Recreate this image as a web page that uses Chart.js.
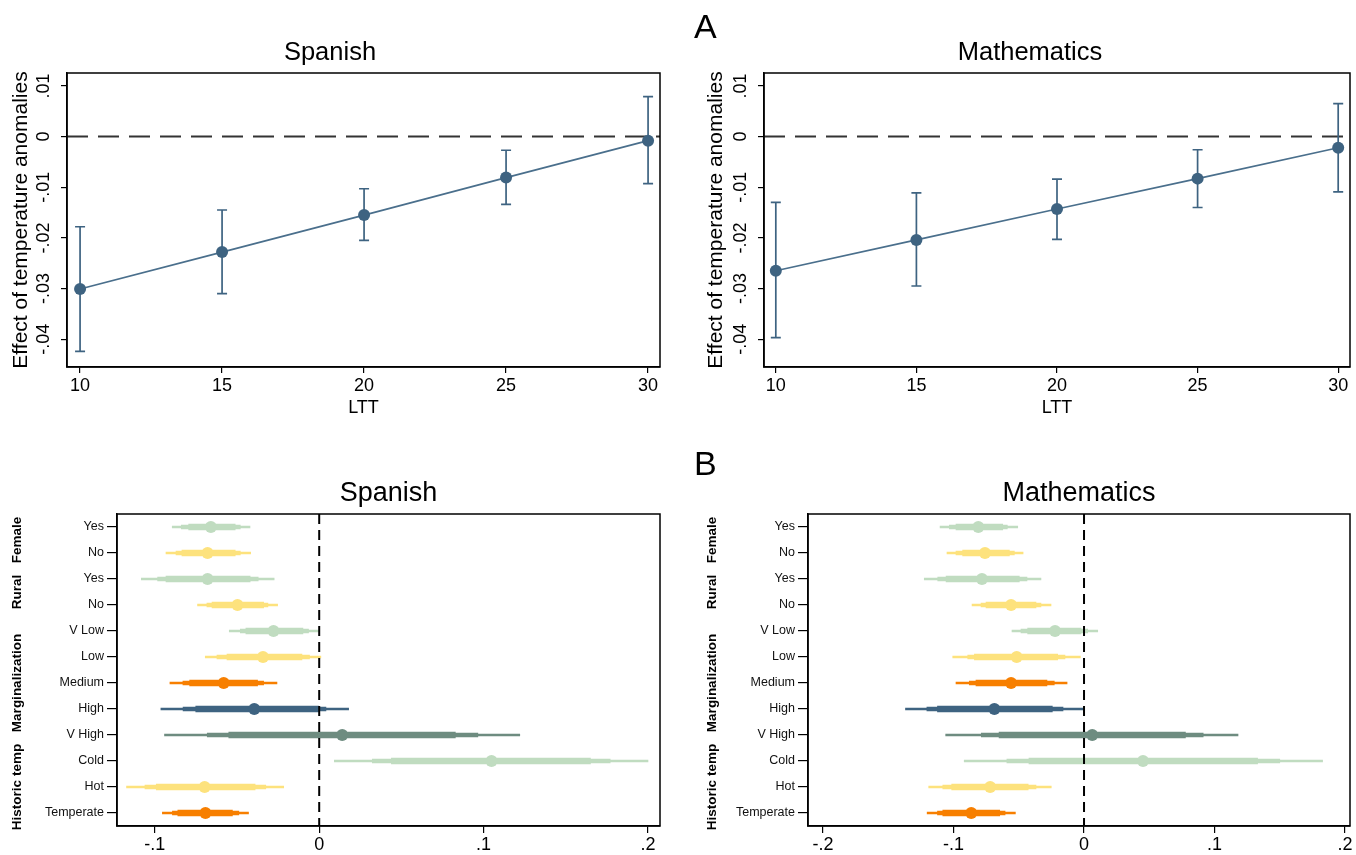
<!DOCTYPE html>
<html>
<head>
<meta charset="utf-8">
<script src="https://cdn.jsdelivr.net/npm/chart.js@4.4.1/dist/chart.umd.min.js"></script>
<style>
  body { margin: 0; background: #fff; }
  #page { position: relative; width: 1356px; height: 855px; overflow: hidden; font-family: 'Liberation Sans', Arial, sans-serif; }
  canvas { position: absolute; }
  .tag { position: absolute; font-size: 34px; line-height: 34px; color: #000; }
</style>
</head>
<body>
<div id="page">
  <canvas id="spanish-ltt" width="678" height="425" style="left:0; top:0;"></canvas>
  <canvas id="math-ltt" width="666" height="425" style="left:690px; top:0;"></canvas>
  <canvas id="spanish-coef" width="678" height="425" style="left:0; top:430px;"></canvas>
  <canvas id="math-coef" width="666" height="425" style="left:690px; top:430px;"></canvas>
  <div class="tag" style="left:694px; top:9px;">A</div>
  <div class="tag" style="left:694px; top:446px;">B</div>
</div>
<script>
// panel A: effect by LTT
const ltt = [10, 15, 20, 25, 30];
const lttTicks = [10, 15, 20, 25, 30];
const effectTicks = [-0.04, -0.03, -0.02, -0.01, 0, 0.01];

const spanishEffect = [-0.0301, -0.0228, -0.0155, -0.0081, -0.0008];
const spanishLo = [-0.0424, -0.0310, -0.0205, -0.0134, -0.0093];
const spanishHi = [-0.0178, -0.0145, -0.0103, -0.0027, 0.0079];

const mathEffect = [-0.0265, -0.0204, -0.0143, -0.0083, -0.0022];
const mathLo = [-0.0397, -0.0295, -0.0203, -0.0140, -0.0109];
const mathHi = [-0.0130, -0.0111, -0.0084, -0.0026, 0.0065];

// panel B: heterogeneity
const rowLabels = ['Yes', 'No', 'Yes', 'No', 'V Low', 'Low', 'Medium', 'High', 'V High', 'Cold', 'Hot', 'Temperate'];
const groupNames = ['Female', 'Rural', 'Marginalization', 'Historic temp'];
const groupSizes = [2, 2, 5, 3];

const spanishCoef = [-0.0659, -0.0679, -0.0679, -0.0497, -0.0278, -0.0342, -0.0581, -0.0395, 0.0140, 0.1048, -0.0697, -0.0692];
const spanishLo99 = [-0.0894, -0.0932, -0.1082, -0.0740, -0.0547, -0.0693, -0.0908, -0.0963, -0.0941, 0.0092, -0.1172, -0.0954];
const spanishHi99 = [-0.0421, -0.0417, -0.0274, -0.0253, 0.0000, 0.0010, -0.0257, 0.0179, 0.1220, 0.2000, -0.0216, -0.0430];
const spanishLo95 = [-0.0839, -0.0871, -0.0983, -0.0683, -0.0480, -0.0622, -0.0829, -0.0828, -0.0681, 0.0323, -0.1060, -0.0893];
const spanishHi95 = [-0.0480, -0.0480, -0.0371, -0.0312, -0.0065, -0.0059, -0.0338, 0.0041, 0.0965, 0.1770, -0.0325, -0.0489];
const spanishLo90 = [-0.0794, -0.0835, -0.0932, -0.0652, -0.0446, -0.0561, -0.0788, -0.0751, -0.0550, 0.0439, -0.0991, -0.0860];
const spanishHi90 = [-0.0511, -0.0511, -0.0420, -0.0338, -0.0099, -0.0105, -0.0375, -0.0004, 0.0828, 0.1650, -0.0390, -0.0528];

const mathCoef = [-0.0810, -0.0759, -0.0782, -0.0559, -0.0222, -0.0516, -0.0559, -0.0687, 0.0063, 0.0452, -0.0719, -0.0864];
const mathLo99 = [-0.1103, -0.1050, -0.1224, -0.0858, -0.0552, -0.1006, -0.0981, -0.1368, -0.1060, -0.0918, -0.1190, -0.1202];
const mathHi99 = [-0.0508, -0.0467, -0.0330, -0.0253, 0.0105, -0.0028, -0.0130, 0.0000, 0.1180, 0.1828, -0.0251, -0.0526];
const mathLo95 = [-0.1032, -0.0981, -0.1121, -0.0789, -0.0483, -0.0891, -0.0879, -0.1204, -0.0787, -0.0591, -0.1082, -0.1123];
const mathHi95 = [-0.0588, -0.0534, -0.0437, -0.0330, 0.0028, -0.0146, -0.0228, -0.0161, 0.0913, 0.1500, -0.0368, -0.0605];
const mathLo90 = [-0.0981, -0.0930, -0.1057, -0.0751, -0.0432, -0.0840, -0.0828, -0.1123, -0.0651, -0.0422, -0.1014, -0.1082];
const mathHi90 = [-0.0623, -0.0572, -0.0496, -0.0368, -0.0023, -0.0202, -0.0284, -0.0243, 0.0777, 0.1330, -0.0428, -0.0646];

const spanishCoefTicks = [-0.1, 0, 0.1, 0.2];
const mathCoefTicks = [-0.2, -0.1, 0, 0.1, 0.2];

const FONT = "'Liberation Sans', Arial, sans-serif";
const green = '#c0dcc0', yellow = '#fde27d', orange = '#f77f00', navy = '#3e6381', slate = '#6e8c80';
const rowColors = [green, yellow, green, yellow, green, yellow, orange, navy, slate, green, yellow, orange];

// stata style: .01, -.02, 0
function stataNum(v) {
  if (v === 0) return '0';
  return String(+v.toFixed(3)).replace('0.', '.');
}

const framePlugin = {
  id: 'frame',
  afterDraw(chart) {
    const { ctx, chartArea: a } = chart;
    ctx.save();
    ctx.strokeStyle = '#000';
    ctx.lineWidth = 1.5;
    ctx.strokeRect(a.left, a.top, a.right - a.left, a.bottom - a.top);
    ctx.restore();
  }
};

function refLine(axis, value, style, onTop) {
  const draw = chart => {
    const { ctx, chartArea: a, scales } = chart;
    ctx.save();
    ctx.beginPath();
    ctx.setLineDash(style.dash);
    ctx.strokeStyle = style.color;
    ctx.lineWidth = style.width;
    if (axis === 'y') {
      const y = scales.y.getPixelForValue(value);
      ctx.moveTo(a.left, y);
      ctx.lineTo(a.right, y);
    } else {
      const x = scales.x.getPixelForValue(value);
      ctx.moveTo(x, a.top);
      ctx.lineTo(x, a.bottom);
    }
    ctx.stroke();
    ctx.restore();
  };
  return {
    id: 'refLine',
    beforeDatasetsDraw(chart) { if (!onTop) draw(chart); },
    afterDatasetsDraw(chart) { if (onTop) draw(chart); }
  };
}

function errorBars(xs, lo, hi) {
  return {
    id: 'errorBars',
    beforeDatasetsDraw(chart) {
      const { ctx, scales: { x, y } } = chart;
      const cap = 5;
      ctx.save();
      ctx.strokeStyle = navy;
      ctx.lineWidth = 1.7;
      xs.forEach((v, i) => {
        const px = x.getPixelForValue(v);
        const top = y.getPixelForValue(hi[i]);
        const bot = y.getPixelForValue(lo[i]);
        ctx.beginPath();
        ctx.moveTo(px, top); ctx.lineTo(px, bot);
        ctx.moveTo(px - cap, top); ctx.lineTo(px + cap, top);
        ctx.moveTo(px - cap, bot); ctx.lineTo(px + cap, bot);
        ctx.stroke();
      });
      ctx.restore();
    }
  };
}

function groupLabels(xPos) {
  return {
    id: 'groupLabels',
    afterDraw(chart) {
      const { ctx, scales: { y } } = chart;
      ctx.save();
      ctx.font = 'bold 13.5px ' + FONT;
      ctx.fillStyle = '#000';
      ctx.textAlign = 'center';
      ctx.textBaseline = 'middle';
      let start = 0;
      groupNames.forEach((name, g) => {
        const end = start + groupSizes[g] - 1;
        const cy = (y.getPixelForValue(start) + y.getPixelForValue(end)) / 2;
        ctx.save();
        ctx.translate(xPos, cy);
        ctx.rotate(-Math.PI / 2);
        ctx.fillText(name, 0, 0);
        ctx.restore();
        start = end + 1;
      });
      ctx.restore();
    }
  };
}

function lttChart(id, title, effect, lo, hi, geo) {
  new Chart(document.getElementById(id), {
    type: 'line',
    data: {
      datasets: [{
        data: ltt.map((v, i) => ({ x: v, y: effect[i] })),
        borderColor: '#4a6f8c',
        borderWidth: 1.7,
        pointRadius: 6,
        pointBackgroundColor: navy,
        pointBorderWidth: 0
      }]
    },
    options: {
      responsive: false,
      animation: false,
      layout: { padding: { left: geo.padLeft, right: geo.padRight } },
      plugins: {
        legend: { display: false },
        tooltip: { enabled: false },
        title: {
          display: true, text: title, color: '#000',
          font: { size: 25.5, family: FONT, weight: 'normal', lineHeight: 1.2 },
          padding: { top: 37.7, bottom: 4.7 }
        }
      },
      scales: {
        x: {
          type: 'linear', min: geo.xMin, max: geo.xMax,
          afterBuildTicks: s => { s.ticks = lttTicks.map(v => ({ value: v })); },
          afterFit: s => { s.height = 58; },
          grid: { drawOnChartArea: false, tickLength: 6, color: '#000', lineWidth: 1.2 },
          border: { color: '#000', width: 1.5 },
          ticks: { color: '#000', font: { size: 18, family: FONT }, padding: 2, maxRotation: 0 },
          title: { display: true, text: 'LTT', color: '#000', font: { size: 18, family: FONT }, padding: { top: 0, bottom: 6 } }
        },
        y: {
          min: -0.0455, max: 0.01256,
          afterBuildTicks: s => { s.ticks = effectTicks.map(v => ({ value: v })); },
          afterFit: s => { s.width = geo.yWidth; },
          grid: { drawOnChartArea: false, tickLength: 6, color: '#000', lineWidth: 1.2 },
          border: { color: '#000', width: 1.5 },
          ticks: {
            color: '#000', font: { size: 18, family: FONT }, padding: 1,
            minRotation: 90, maxRotation: 90, crossAlign: 'center',
            callback: v => stataNum(v)
          },
          title: {
            display: true, text: 'Effect of temperature anomalies', color: '#000',
            font: { size: 21, family: FONT, lineHeight: 1 }, padding: { top: geo.titlePad, bottom: 0 }
          }
        }
      }
    },
    plugins: [framePlugin, refLine('y', 0, { dash: [21, 10], color: '#333', width: 2 }, false), errorBars(ltt, lo, hi)]
  });
}

function coefChart(id, title, coef, lo99, hi99, lo95, hi95, lo90, hi90, xTicks, geo) {
  const band = (lo, hi) => lo.map((v, i) => [v, hi[i]]);
  new Chart(document.getElementById(id), {
    type: 'bar',
    data: {
      labels: rowLabels,
      datasets: [
        { type: 'line', data: coef, showLine: false, pointRadius: 6, pointBackgroundColor: rowColors, pointBorderWidth: 0 },
        { data: band(lo90, hi90), backgroundColor: rowColors, barThickness: 6, grouped: false },
        { data: band(lo95, hi95), backgroundColor: rowColors, barThickness: 4, grouped: false },
        { data: band(lo99, hi99), backgroundColor: rowColors, barThickness: 2, grouped: false }
      ]
    },
    options: {
      indexAxis: 'y',
      responsive: false,
      animation: false,
      layout: { padding: { right: geo.padRight } },
      plugins: {
        legend: { display: false },
        tooltip: { enabled: false },
        title: {
          display: true, text: title, color: '#000', fullSize: false,
          font: { size: 27, family: FONT, weight: 'normal' },
          padding: { top: 47.8, bottom: 3.8 }
        }
      },
      scales: {
        x: {
          type: 'linear', min: geo.xMin, max: geo.xMax,
          afterBuildTicks: s => { s.ticks = xTicks.map(v => ({ value: v })); },
          afterFit: s => { s.height = 29; },
          grid: { drawOnChartArea: false, tickLength: 7, color: '#000', lineWidth: 1.2 },
          border: { color: '#000', width: 1.5 },
          ticks: { color: '#000', font: { size: 18, family: FONT }, padding: 1, maxRotation: 0, callback: v => stataNum(v) }
        },
        y: {
          type: 'category', offset: true,
          afterFit: s => { s.width = geo.yWidth; },
          grid: { drawOnChartArea: false, tickLength: 10, color: '#000', lineWidth: 1.2, offset: false },
          border: { color: '#000', width: 1.5 },
          ticks: { color: '#111', font: { size: 12.5, family: FONT }, padding: 3 }
        }
      }
    },
    plugins: [framePlugin, refLine('x', 0, { dash: [10, 6], color: '#000', width: 2 }, true), groupLabels(geo.groupX)]
  });
}

lttChart('spanish-ltt', 'Spanish', spanishEffect, spanishLo, spanishHi,
  { xMin: 9.54, xMax: 30.42, padLeft: 0, padRight: 18, yWidth: 67, titlePad: 11 });
lttChart('math-ltt', 'Mathematics', mathEffect, mathLo, mathHi,
  { xMin: 9.58, xMax: 30.42, padLeft: 16, padRight: 2, yWidth: 58, titlePad: 0 });

coefChart('spanish-coef', 'Spanish', spanishCoef, spanishLo99, spanishHi99, spanishLo95, spanishHi95, spanishLo90, spanishHi90,
  spanishCoefTicks, { xMin: -0.123, xMax: 0.2073, padRight: 18, yWidth: 117, groupX: 17 });
coefChart('math-coef', 'Mathematics', mathCoef, mathLo99, mathHi99, mathLo95, mathHi95, mathLo90, mathHi90,
  mathCoefTicks, { xMin: -0.2115, xMax: 0.2038, padRight: 6, yWidth: 118, groupX: 22 });
</script>
</body>
</html>
